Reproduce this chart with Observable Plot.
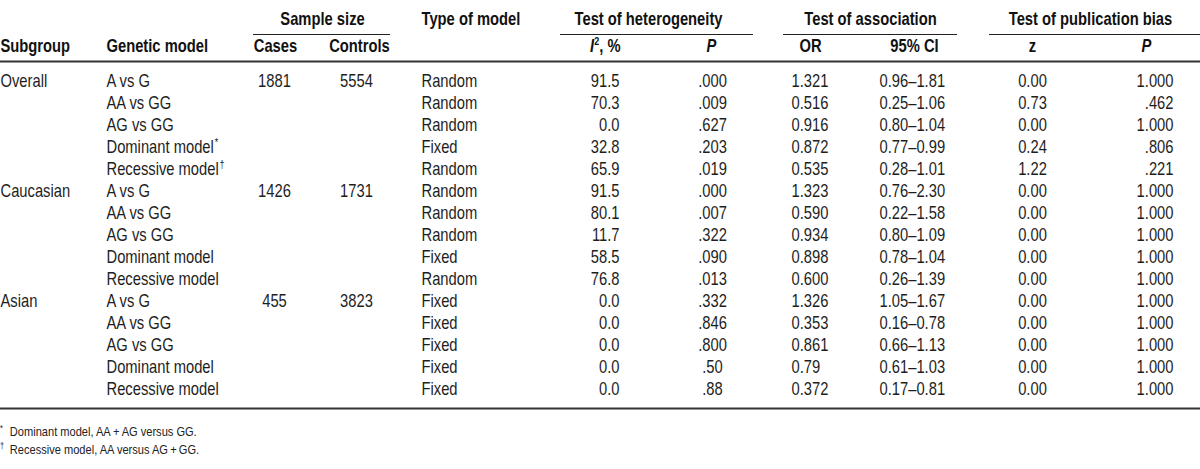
<!DOCTYPE html>
<html><head><meta charset="utf-8">
<script src="https://cdn.jsdelivr.net/npm/d3@7"></script>
<script src="https://cdn.jsdelivr.net/npm/@observablehq/plot@0.6"></script>
<style>
body{margin:0;background:#fff;}
#chart svg{display:block;}
.fn{font-family:"Liberation Sans",Arial,sans-serif;font-size:13.5px;line-height:18px;color:#222;white-space:nowrap;transform:scaleX(0.82);transform-origin:0 0;}
.fn .m{display:inline-block;width:12px;font-size:9px;vertical-align:top;line-height:11px;}
</style></head><body>
<div id="chart"></div>
<div id="notes"></div>
<script>
// ---- data ----
const subgroupNames = ["Overall", "Caucasian", "Asian"];
const casesN = [1881, 1426, 455];
const controlsN = [5554, 1731, 3823];
const geneticModels = ["A vs G", "AA vs GG", "AG vs GG", "Dominant model", "Recessive model"];
const footMarks = ["", "", "", "*", "†"];
const modelType = ["Random","Random","Random","Fixed","Random",
                   "Random","Random","Random","Fixed","Random",
                   "Fixed","Fixed","Fixed","Fixed","Fixed"];
const i2 = [91.5, 70.3, 0.0, 32.8, 65.9, 91.5, 80.1, 11.7, 58.5, 76.8, 0.0, 0.0, 0.0, 0.0, 0.0];
const pHet = [".000",".009",".627",".203",".019",".000",".007",".322",".090",".013",".332",".846",".800",".50",".88"];
const orVal = ["1.321","0.516","0.916","0.872","0.535","1.323","0.590","0.934","0.898","0.600","1.326","0.353","0.861","0.79","0.372"];
const ci95 = ["0.96–1.81","0.25–1.06","0.80–1.04","0.77–0.99","0.28–1.01","0.76–2.30","0.22–1.58","0.80–1.09","0.78–1.04","0.26–1.39","1.05–1.67","0.16–0.78","0.66–1.13","0.61–1.03","0.17–0.81"];
const zVal = [0.00, 0.73, 0.00, 0.24, 1.22, 0.00, 0.00, 0.00, 0.00, 0.00, 0.00, 0.00, 0.00, 0.00, 0.00];
const pPub = ["1.000",".462","1.000",".806",".221","1.000","1.000","1.000","1.000","1.000","1.000","1.000","1.000","1.000","1.000"];
const groupHeaders = ["Sample size", "Type of model", "Test of heterogeneity", "Test of association", "Test of publication bias"];
const colHeaders = ["Subgroup", "Genetic model", "Cases", "Controls", "I², %", "P", "OR", "95% CI", "z", "P"];
const footnotes = [["*", "Dominant model, AA\u2009+\u2009AG versus GG."], ["†", "Recessive model, AA versus AG\u2009+\u2009GG."]];

// ---- layout (positions on the x scale) ----
const FONT = '"Liberation Sans",Arial,sans-serif';
const NARROW = 0.82; // horizontal condensing of the glyphs
const cols = [
  {key: "subgroup", x: 0, anchor: "start", hx: 0, ha: "start"},
  {key: "genetic", x: 106, anchor: "start", hx: 106, ha: "start"},
  {key: "cases", x: 274, anchor: "middle", hx: 275, ha: "middle"},
  {key: "controls", x: 356, anchor: "middle", hx: 359, ha: "middle"},
  {key: "type", x: 421, anchor: "start", hx: null},
  {key: "i2", x: 619, anchor: "end", hx: 620, ha: "end"},
  {key: "pHet", x: 712, anchor: "middle", hx: 711, ha: "middle", italic: true},
  {key: "or", x: 791, anchor: "start", hx: 810, ha: "middle"},
  {key: "ci", x: 879, anchor: "start", hx: 914, ha: "middle"},
  {key: "z", x: 1032, anchor: "middle", hx: 1032, ha: "middle"},
  {key: "pPub", x: 1173, anchor: "end", hx: 1146, ha: "middle", italic: true}
];
const groupLayout = [
  {x: 322, anchor: "middle", x1: 253, x2: 390},
  {x: 421, anchor: "start"},
  {x: 648, anchor: "middle", x1: 560, x2: 753},
  {x: 870, anchor: "middle", x1: 783, x2: 957},
  {x: 1090, anchor: "middle", x1: 989, x2: 1200}
];

const rows = d3.range(15).map(i => {
  const g = Math.floor(i / 5), k = i % 5;
  return {
    i,
    subgroup: k === 0 ? subgroupNames[g] : "",
    genetic: geneticModels[k] + (g === 0 ? footMarks[k] : ""),
    cases: k === 0 ? String(casesN[g]) : "",
    controls: k === 0 ? String(controlsN[g]) : "",
    type: modelType[i],
    i2: i2[i].toFixed(1),
    pHet: pHet[i],
    or: orVal[i],
    ci: ci95[i],
    z: zVal[i].toFixed(2),
    pPub: pPub[i]
  };
});

const headerCols = cols.filter(c => c.hx !== null).map((c, j) => ({...c, label: colHeaders[j]}));
const groups = groupHeaders.map((label, j) => ({label, ...groupLayout[j]}));
const underlined = groups.filter(g => g.x1 !== undefined);

const marks = [];
for (const c of cols) {
  marks.push(Plot.text(rows, {x: () => c.x, y: "i", text: c.key, textAnchor: c.anchor,
    fill: "#1e1e1e", fontSize: 18, fontFamily: FONT}));
}
for (const h of headerCols) {
  marks.push(Plot.text([h], {x: () => h.hx, y: () => 0, dy: -35, text: "label", textAnchor: h.ha,
    fill: "#111", fontSize: 18, fontWeight: "bold", fontStyle: h.italic ? "italic" : "normal", fontFamily: FONT}));
}
for (const g of groups) {
  marks.push(Plot.text([g], {x: () => g.x, y: () => 0, dy: -62, text: "label", textAnchor: g.anchor,
    fill: "#111", fontSize: 18, fontWeight: "bold", fontFamily: FONT}));
}
marks.push(Plot.ruleY(underlined, {y: () => 0, x1: "x1", x2: "x2", dy: -47, stroke: "#222", strokeWidth: 1.2}));
marks.push(Plot.ruleY([0], {dy: -20, stroke: "#333", strokeWidth: 2}));
marks.push(Plot.ruleY([14], {dy: 19, stroke: "#333", strokeWidth: 2}));

const chart = Plot.plot({
  width: 1200, height: 423, margin: 0,
  x: {type: "linear", domain: [0, 1200], range: [0, 1200], axis: null},
  y: {type: "point", domain: d3.range(15), range: [70, 400], axis: null},
  style: {fontFamily: FONT, background: "#fff", overflow: "visible"},
  marks
});
document.getElementById("chart").append(chart);

const NS = "http://www.w3.org/2000/svg";
chart.querySelectorAll("text").forEach(t => {
  const s = t.textContent;
  if (s === "I², %") {
    t.textContent = "";
    const a = document.createElementNS(NS, "tspan"); a.setAttribute("font-style", "italic"); a.textContent = "I";
    const b = document.createElementNS(NS, "tspan"); b.setAttribute("font-size", "11"); b.setAttribute("dy", "-7"); b.textContent = "2";
    const c = document.createElementNS(NS, "tspan"); c.setAttribute("dy", "7"); c.textContent = ", %";
    t.append(a, b, c);
  } else if (/[*†]$/.test(s)) {
    const base = s.slice(0, -1), m = s.slice(-1);
    t.textContent = base;
    const sp = document.createElementNS(NS, "tspan");
    sp.setAttribute("font-size", "11"); sp.setAttribute("dy", "-7"); sp.setAttribute("dx", "1");
    sp.textContent = m;
    t.append(sp);
  }
  // condense glyphs horizontally around the text's own anchor point
  const tr = t.getAttribute("transform");
  if (tr) {
    t.setAttribute("transform", tr + ` scale(${NARROW},1)`);
  } else {
    const x = +(t.getAttribute("x") || 0), y = +(t.getAttribute("y") || 0);
    t.removeAttribute("x"); t.removeAttribute("y");
    t.setAttribute("transform", `translate(${x},${y}) scale(${NARROW},1)`);
  }
});

const notes = document.getElementById("notes");
for (const [m, txt] of footnotes) {
  const d = document.createElement("div"); d.className = "fn";
  const s = document.createElement("span"); s.className = "m"; s.textContent = m;
  d.append(s, document.createTextNode(txt));
  notes.append(d);
}
</script>
</body></html>
